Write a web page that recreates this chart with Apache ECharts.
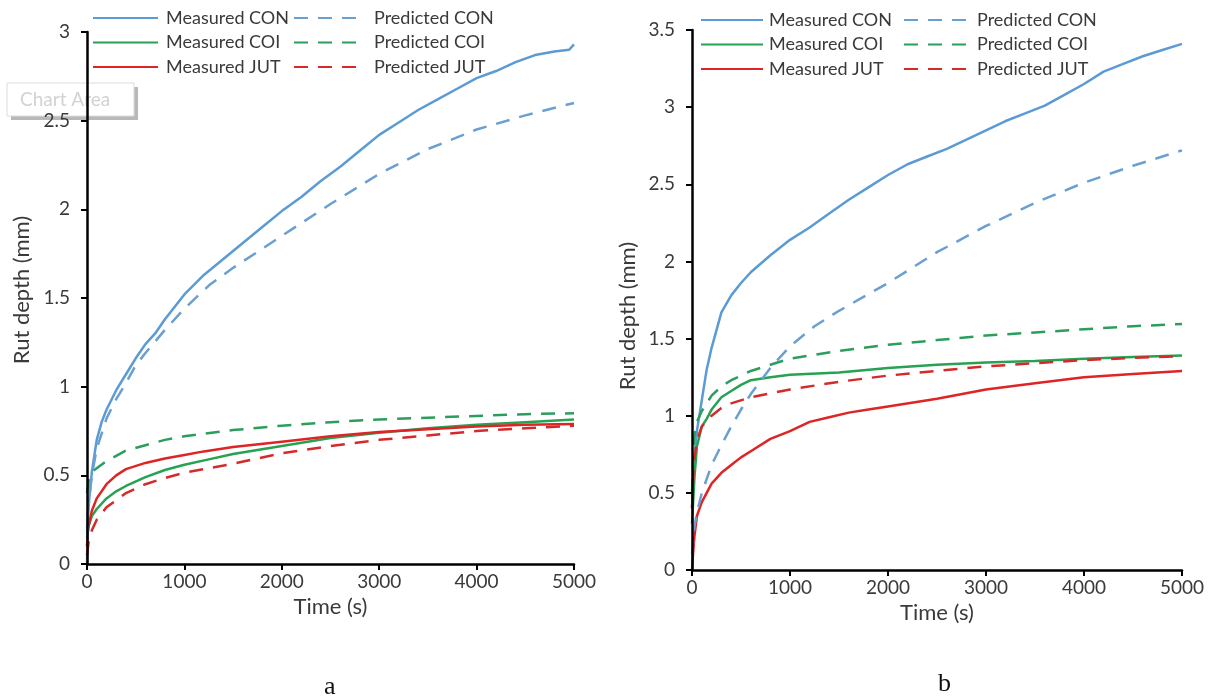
<!DOCTYPE html>
<html>
<head>
<meta charset="utf-8">
<script src="https://cdn.jsdelivr.net/npm/echarts@6/dist/echarts.min.js"></script>
<style>
  html, body { margin: 0; padding: 0; background: #ffffff; }
  #chart { width: 1213px; height: 699px; }
</style>
</head>
<body>
<div id="chart"></div>
<script>
// ---------- Data (time s, rut depth mm) ----------
// Chart a
const aMeasCON = [[0,0.2],[25,0.38],[50,0.52],[100,0.7],[150,0.8],[200,0.87],[300,0.98],[400,1.07],[500,1.16],[600,1.24],[700,1.3],[800,1.38],[1000,1.52],[1200,1.63],[1400,1.72],[1600,1.81],[1800,1.9],[2000,1.99],[2200,2.07],[2400,2.16],[2600,2.24],[2800,2.33],[3000,2.42],[3200,2.49],[3400,2.56],[3600,2.62],[3800,2.68],[4000,2.74],[4200,2.78],[4400,2.83],[4600,2.87],[4800,2.89],[4950,2.9],[5000,2.93]];
const aPredCON = [[0,0],[10,0.3],[50,0.5],[100,0.65],[200,0.82],[300,0.93],[400,1.02],[500,1.12],[600,1.19],[800,1.32],[1000,1.44],[1250,1.57],[1500,1.67],[1750,1.76],[2000,1.85],[2500,2.03],[3000,2.2],[3500,2.34],[4000,2.45],[4500,2.53],[5000,2.6]];
const aMeasCOI = [[0,0.15],[20,0.22],[50,0.27],[100,0.31],[200,0.37],[300,0.41],[400,0.44],[600,0.49],[800,0.53],[1000,0.56],[1250,0.59],[1500,0.62],[2000,0.665],[2500,0.71],[3000,0.74],[3500,0.765],[4000,0.785],[4500,0.8],[5000,0.815]];
const aPredCOI = [[0,0.4],[20,0.48],[50,0.52],[100,0.54],[200,0.58],[400,0.64],[600,0.67],[800,0.7],[1000,0.72],[1500,0.755],[2000,0.78],[2500,0.8],[3000,0.815],[3500,0.825],[4000,0.835],[4500,0.845],[5000,0.85]];
const aMeasJUT = [[0,0.1],[10,0.2],[50,0.3],[100,0.37],[200,0.45],[300,0.5],[400,0.535],[600,0.57],[800,0.595],[1000,0.615],[1200,0.635],[1500,0.66],[2000,0.69],[2500,0.72],[3000,0.745],[3500,0.76],[4000,0.775],[4500,0.785],[5000,0.79]];
const aPredJUT = [[0,0.05],[20,0.14],[50,0.19],[100,0.25],[200,0.32],[400,0.4],[600,0.45],[800,0.485],[1000,0.515],[1500,0.565],[2000,0.625],[2500,0.665],[3000,0.7],[3500,0.725],[4000,0.75],[4500,0.765],[5000,0.78]];
// Chart b
const bMeasCON = [[0,0.4],[20,0.7],[50,0.9],[100,1.1],[150,1.3],[200,1.44],[300,1.67],[400,1.78],[500,1.86],[600,1.93],[800,2.04],[1000,2.14],[1200,2.22],[1400,2.31],[1600,2.4],[1800,2.48],[2000,2.56],[2200,2.63],[2400,2.68],[2600,2.73],[2800,2.79],[3000,2.85],[3200,2.91],[3400,2.96],[3600,3.01],[3800,3.08],[4000,3.15],[4200,3.23],[4400,3.28],[4600,3.33],[4800,3.37],[5000,3.41]];
const bPredCON = [[0,0.1],[25,0.28],[50,0.37],[100,0.5],[200,0.68],[300,0.81],[400,0.93],[500,1.04],[600,1.14],[800,1.31],[1000,1.45],[1250,1.58],[1500,1.68],[1750,1.77],[2000,1.86],[2500,2.06],[3000,2.23],[3500,2.38],[4000,2.51],[4500,2.62],[5000,2.72]];
const bMeasCOI = [[0,0.3],[25,0.6],[50,0.8],[100,0.93],[150,0.98],[200,1.04],[300,1.12],[400,1.16],[500,1.2],[600,1.23],[800,1.25],[1000,1.265],[1500,1.28],[2000,1.31],[2500,1.33],[3000,1.345],[3500,1.355],[4000,1.37],[4500,1.38],[5000,1.39]];
const bPredCOI = [[0,0.5],[20,0.85],[50,0.96],[100,1.03],[200,1.13],[300,1.19],[400,1.23],[600,1.29],[800,1.33],[1000,1.37],[1500,1.42],[2000,1.46],[2500,1.49],[3000,1.52],[3500,1.54],[4000,1.56],[4500,1.58],[5000,1.595]];
const bMeasJUT = [[0,0],[10,0.1],[25,0.22],[50,0.35],[100,0.44],[200,0.56],[300,0.63],[400,0.68],[500,0.73],[600,0.77],[800,0.85],[1000,0.9],[1200,0.96],[1400,0.99],[1600,1.02],[1800,1.04],[2000,1.06],[2500,1.11],[3000,1.17],[3500,1.21],[4000,1.25],[4500,1.27],[5000,1.29]];
const bPredJUT = [[0,0.4],[20,0.7],[50,0.84],[100,0.93],[200,1.0],[300,1.05],[400,1.08],[600,1.12],[800,1.145],[1000,1.17],[1500,1.22],[2000,1.26],[2500,1.29],[3000,1.32],[3500,1.34],[4000,1.36],[4500,1.375],[5000,1.385]];

const measuredNames = ['Measured CON', 'Measured COI', 'Measured JUT'];
const predictedNames = ['Predicted CON', 'Predicted COI', 'Predicted JUT'];
const xTicks = [0, 1000, 2000, 3000, 4000, 5000];
const yMaxA = 3, yMaxB = 3.5;
const panelLabels = ['a', 'b'];

// ---------- Styling ----------
const colors = { CON: '#5b9bd5', COI: '#27a152', JUT: '#de2424' };
const predColors = { CON: '#6a9fd2', COI: '#2b9e5e', JUT: '#d52a2a' };
const FONT = 'Lato, "Open Sans", sans-serif';
const labelColor = '#3a3a3a';

function mkSeries(name, data, gi, color, dashed) {
  return {
    name: name, type: 'line', data: data,
    xAxisIndex: gi, yAxisIndex: gi,
    symbol: 'none', smooth: false,
    lineStyle: { color: color, width: 2.5, type: dashed ? [14, 10] : 'solid' },
    itemStyle: { color: color },
    z: 3
  };
}

function mkXAxis(gi, gap) {
  return {
    type: 'value', gridIndex: gi, min: 0, max: xTicks[xTicks.length - 1], interval: 1000,
    name: 'Time (s)', nameLocation: 'middle', nameGap: gap,
    nameTextStyle: { fontFamily: FONT, fontSize: 22, color: labelColor },
    axisLine: { show: true, onZero: false, lineStyle: { color: '#000', width: 2.5 } },
    axisTick: { show: true, inside: false, length: 6, lineStyle: { color: '#000', width: 2 } },
    axisLabel: { fontFamily: FONT, fontSize: 19, color: labelColor, margin: 8,
                 formatter: function (v) { return String(v); } },
    splitLine: { show: false },
    z: 5
  };
}
function mkYAxis(gi, max, gap, pad) {
  return {
    type: 'value', gridIndex: gi, min: 0, max: max, interval: 0.5,
    name: 'Rut depth (mm)', nameLocation: 'middle', nameGap: gap,
    nameTextStyle: { fontFamily: FONT, fontSize: 22, color: labelColor, padding: pad },
    axisLine: { show: true, onZero: false, lineStyle: { color: '#000', width: 2.5 } },
    axisTick: { show: true, inside: false, length: 6, lineStyle: { color: '#000', width: 2 } },
    axisLabel: { fontFamily: FONT, fontSize: 19, color: labelColor, margin: 17 },
    splitLine: { show: false },
    z: 5
  };
}
function mkLegend(names, left, top, iw, textPad) {
  return {
    orient: 'vertical', left: left, top: top, padding: 0,
    itemWidth: iw, itemHeight: 12, itemGap: 6.5,
    data: names,
    selectedMode: false,
    itemStyle: { opacity: 0, color: 'transparent', borderWidth: 0 },
    textStyle: { fontFamily: FONT, fontSize: 18, color: labelColor, lineHeight: 18, padding: [0, 0, 0, textPad] }
  };
}

const option = {
  backgroundColor: '#ffffff',
  animation: false,
  grid: [
    { left: 87, right: 1213 - 574, top: 32, bottom: 699 - 564 },
    { left: 692, right: 1213 - 1182, top: 30, bottom: 699 - 570 }
  ],
  xAxis: [ mkXAxis(0, 26), mkXAxis(1, 26) ],
  yAxis: [ mkYAxis(0, yMaxA, 54, [0, 0, 0, 16]), mkYAxis(1, yMaxB, 53, [0, 32, 0, 0]) ],
  legend: [
    mkLegend(measuredNames, 92, 9, 65, 3),
    mkLegend(predictedNames, 293, 9, 69, 6),
    mkLegend(measuredNames, 700, 11, 62, 1),
    mkLegend(predictedNames, 903, 11, 68, 0)
  ],
  graphic: [
    { type: 'rect', z: -1, shape: { x: 11, y: 87, width: 127, height: 33 }, style: { fill: '#b8b8b8' } },
    { type: 'rect', z: -1, shape: { x: 7, y: 83, width: 127, height: 33 }, style: { fill: '#ffffff', stroke: '#dcdcdc', lineWidth: 1 } },
    { type: 'text', z: -1, left: 20, top: 90, style: { text: 'Chart Area', fill: '#d2d2d2', font: '19px ' + FONT } },
    { type: 'text', left: 330 - 6, top: 674, style: { text: panelLabels[0], fill: '#111', font: '26px "Liberation Serif", "DejaVu Serif", serif' } },
    { type: 'text', left: 945 - 7, top: 671, style: { text: panelLabels[1], fill: '#111', font: '26px "Liberation Serif", "DejaVu Serif", serif' } }
  ],
  series: [
    mkSeries('Measured CON', aMeasCON, 0, colors.CON, false),
    mkSeries('Measured COI', aMeasCOI, 0, colors.COI, false),
    mkSeries('Measured JUT', aMeasJUT, 0, colors.JUT, false),
    mkSeries('Predicted CON', aPredCON, 0, predColors.CON, true),
    mkSeries('Predicted COI', aPredCOI, 0, predColors.COI, true),
    mkSeries('Predicted JUT', aPredJUT, 0, predColors.JUT, true),
    mkSeries('Measured CON', bMeasCON, 1, colors.CON, false),
    mkSeries('Measured COI', bMeasCOI, 1, colors.COI, false),
    mkSeries('Measured JUT', bMeasJUT, 1, colors.JUT, false),
    mkSeries('Predicted CON', bPredCON, 1, predColors.CON, true),
    mkSeries('Predicted COI', bPredCOI, 1, predColors.COI, true),
    mkSeries('Predicted JUT', bPredJUT, 1, predColors.JUT, true)
  ]
};

const chart = echarts.init(document.getElementById('chart'), null, { renderer: 'canvas' });
chart.setOption(option);
</script>
</body>
</html>
